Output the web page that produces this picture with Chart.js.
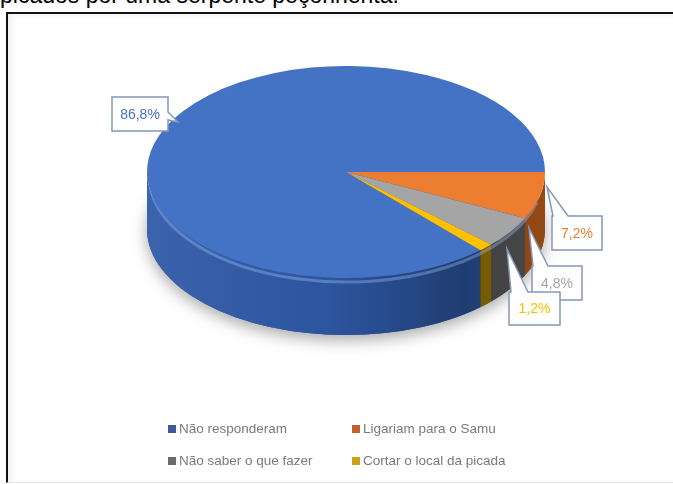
<!DOCTYPE html>
<html>
<head>
<meta charset="utf-8">
<script src="https://cdn.jsdelivr.net/npm/chart.js@4"></script>
<style>
  body { margin: 0; background: #fff; width: 673px; height: 484px; overflow: hidden; position: relative; }
  .title { position: absolute; left: 0; top: -18px; font: 23px "Liberation Sans", Arial, sans-serif; color: #000; white-space: nowrap; }
  .frame { position: absolute; left: 6px; top: 12px; width: 700px; height: 468px;
           border-left: 2px solid #111; border-top: 2px solid #111; border-bottom: 1px solid #e4e4e4;
           box-shadow: inset 6px 4px 8px -4px rgba(0,0,0,0.08); }
  canvas { position: absolute; left: 0; top: 0; }
  .legend { position: absolute; left: 168px; top: 421px; display: grid; grid-template-columns: 184px auto;
            row-gap: 16px; font: 13.5px "Liberation Sans", Arial, sans-serif; line-height: 16px; color: #7a7a7a; }
  .legend span.sw { display: inline-block; width: 8px; height: 8px; margin-right: 3px; vertical-align: 0px; }
</style>
</head>
<body>
<div class="title">picados por uma serpente peçonhenta.</div>
<div class="frame"></div>
<canvas id="pie" width="673" height="484"></canvas>
<div class="legend" id="legend"></div>
<script>
const categories = ['Não responderam', 'Ligariam para o Samu', 'Não saber o que fazer', 'Cortar o local da picada'];
const percentages = [86.8, 7.2, 4.8, 1.2];
const sliceColors = ['#4472c4', '#ed7d31', '#a5a5a5', '#ffc000'];
const sideColors = ['#2f5aa8', '#b95c1c', '#5c5c5c', '#a88000'];
const legendColors = ['#3b5a9c', '#c0602a', '#6a6a6a', '#c9a21a'];

// tilt of the disc and thickness of its wall
const TILT = 0.533;
const CENTER_Y = 172;
const DEPTH = 57;

// callout boxes: rect, wedge base on the top/right edge, anchor on the disc
const callouts = [
  { x: 112, y: 97,  w: 56, h: 34, side: 'right', b1: 112, b2: 120, ax: 178, ay: 122 },
  { x: 552, y: 216, w: 50, h: 34, side: 'top',   b1: 553, b2: 568, ax: 547, ay: 187 },
  { x: 532, y: 266, w: 50, h: 34, side: 'top',   b1: 533, b2: 548, ax: 529, ay: 228 },
  { x: 509, y: 292, w: 51, h: 33, side: 'top',   b1: 511, b2: 528, ax: 507, ay: 249 }
];

const fmt = v => v.toFixed(1).replace('.', ',') + '%';

function frontSegments(a1, a2) {
  const segs = [];
  for (const base of [-2 * Math.PI, 0, 2 * Math.PI, 4 * Math.PI]) {
    const lo = Math.max(a1, base), hi = Math.min(a2, base + Math.PI);
    if (lo < hi) segs.push([lo, hi]);
  }
  return segs;
}

const tiltPlugin = {
  id: 'tilt',
  beforeDatasetsDraw(chart) {
    const ctx = chart.ctx;
    const arcs = chart.getDatasetMeta(0).data;
    const { x, y, outerRadius: r } = arcs[0];
    const ry = r * TILT;

    // soft shadow under the disc
    ctx.save();
    ctx.shadowColor = 'rgba(0,0,0,0.35)';
    ctx.shadowBlur = 16;
    ctx.shadowOffsetY = 5;
    ctx.fillStyle = '#2a4f94';
    ctx.beginPath();
    ctx.ellipse(x, CENTER_Y + DEPTH, r, ry, 0, 0, 2 * Math.PI);
    ctx.fill();
    ctx.restore();

    // wall of each slice on the front half
    arcs.forEach((arc, i) => {
      frontSegments(arc.startAngle, arc.endAngle).forEach(([lo, hi]) => {
        ctx.beginPath();
        ctx.ellipse(x, CENTER_Y, r, ry, 0, lo, hi);
        ctx.ellipse(x, CENTER_Y + DEPTH, r, ry, 0, hi, lo, true);
        ctx.closePath();
        ctx.fillStyle = sideColors[i];
        ctx.fill();
      });
    });

    // shading across the wall, darker to the right
    const g = ctx.createLinearGradient(x - r, 0, x + r, 0);
    g.addColorStop(0, 'rgba(255,255,255,0.06)');
    g.addColorStop(0.45, 'rgba(0,0,0,0.05)');
    g.addColorStop(0.8, 'rgba(0,0,0,0.32)');
    g.addColorStop(1, 'rgba(0,0,0,0.2)');
    ctx.beginPath();
    ctx.ellipse(x, CENTER_Y, r, ry, 0, 0, Math.PI);
    ctx.ellipse(x, CENTER_Y + DEPTH, r, ry, 0, Math.PI, 0, true);
    ctx.closePath();
    ctx.fillStyle = g;
    ctx.fill();

    // bevel highlight along the rim
    ctx.save();
    ctx.strokeStyle = 'rgba(170,200,255,0.35)';
    ctx.lineWidth = 3;
    ctx.beginPath();
    ctx.ellipse(x, CENTER_Y + 4, r - 2, ry, 0, 0.25, Math.PI - 0.1);
    ctx.stroke();
    ctx.restore();

    // squash the top face
    ctx.save();
    ctx.translate(0, CENTER_Y);
    ctx.scale(1, TILT);
    ctx.translate(0, -y);
  },
  afterDatasetsDraw(chart) {
    chart.ctx.restore();
  }
};

const calloutPlugin = {
  id: 'callouts',
  afterDraw(chart) {
    const ctx = chart.ctx;
    ctx.save();
    callouts.forEach((c, i) => {
      ctx.beginPath();
      if (c.side === 'top') {
        ctx.moveTo(c.x, c.y);
        ctx.lineTo(c.b1, c.y);
        ctx.lineTo(c.ax, c.ay);
        ctx.lineTo(c.b2, c.y);
        ctx.lineTo(c.x + c.w, c.y);
        ctx.lineTo(c.x + c.w, c.y + c.h);
        ctx.lineTo(c.x, c.y + c.h);
      } else {
        ctx.moveTo(c.x, c.y);
        ctx.lineTo(c.x + c.w, c.y);
        ctx.lineTo(c.x + c.w, c.b1);
        ctx.lineTo(c.ax, c.ay);
        ctx.lineTo(c.x + c.w, c.b2);
        ctx.lineTo(c.x + c.w, c.y + c.h);
        ctx.lineTo(c.x, c.y + c.h);
      }
      ctx.closePath();
      ctx.fillStyle = '#fff';
      ctx.fill();
      ctx.strokeStyle = '#8497b8';
      ctx.lineWidth = 1.5;
      ctx.stroke();
      ctx.fillStyle = sliceColors[i];
      ctx.font = '14px "Liberation Sans", Arial, sans-serif';
      ctx.textAlign = 'center';
      ctx.textBaseline = 'middle';
      ctx.fillText(fmt(percentages[i]), c.x + c.w / 2, c.y + c.h / 2 + 1);
    });
    ctx.restore();
  }
};

new Chart(document.getElementById('pie'), {
  type: 'pie',
  data: {
    labels: categories,
    datasets: [{
      data: percentages,
      backgroundColor: sliceColors,
      borderWidth: 0
    }]
  },
  options: {
    responsive: false,
    animation: false,
    rotation: 137.5,
    layout: { padding: { left: 147, right: 128, top: 0, bottom: 86 } },
    plugins: {
      legend: { display: false },
      tooltip: { enabled: false }
    }
  },
  plugins: [tiltPlugin, calloutPlugin]
});

// legend, two columns
document.getElementById('legend').innerHTML = categories.map((name, i) =>
  '<div><span class="sw" style="background:' + legendColors[i] + '"></span>' + name + '</div>'
).join('');
</script>
</body>
</html>
